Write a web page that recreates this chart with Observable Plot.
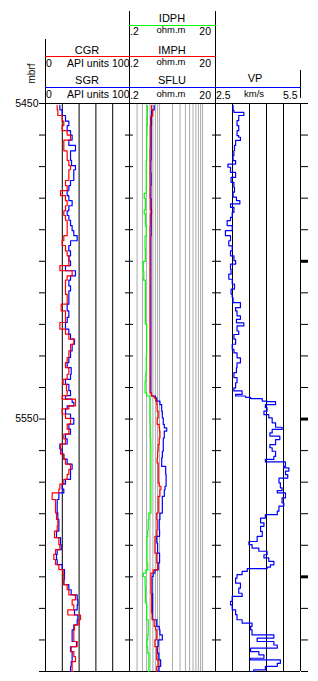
<!DOCTYPE html>
<html><head><meta charset="utf-8">
<script src="https://cdn.jsdelivr.net/npm/d3@7"></script>
<script src="https://cdn.jsdelivr.net/npm/@observablehq/plot@0.6"></script>
<style>
body{margin:0;background:#fff;}
#chart{position:relative;width:318px;height:681px;overflow:hidden;background:#fff;}
#chart svg{position:absolute;left:0;top:0;background:transparent !important;overflow:visible;max-width:none !important;}
</style></head><body><div id="chart"></div>
<script>
// ---------- depth axis ----------
const depthDomain = [5450, 5630];
const depthTicks = d3.range(5450, 5631, 10);
const depthLabels = [5450, 5550];
const thickTicks = [5500, 5550, 5600];
const depthUnit = "mbrf";

// ---------- track 1: gamma ray (API units) ----------
const grGrid = [0, 20, 40, 60, 80, 100];
const grDepth = [5450.6,5452,5453.8,5455.6,5457,5458.6,5460,5461.6,5463.3,5465,
5466.5,5468,5469.7,5471,5472.9,5474.4,5476,5477.6,5479.2,5480.8,
5482.4,5484,5485.5,5487,5488.7,5490.3,5491.9,5493.5,5495,5496.7,
5498.3,5499.9,5501.4,5503,5504.6,5506,5507.8,5509.4,5510.5,5513.6,
5515.7,5517.8,5519.4,5521.5,5523.1,5524.7,5526.3,5528.4,5530.5,5532.1,
5533.7,5535.8,5537.4,5539,5541,5542.6,5543.7,5544.7,5545.8,5546.8,
5548.4,5549.8,5551.6,5553.2,5554.8,5556.3,5557.9,5559.5,5561.1,5562.7,
5564.3,5565.9,5567.5,5569.1,5570.6,5572.2,5573.4,5575.5,5577.6,5579.7,
5581.8,5583.9,5585.5,5587.6,5589.8,5591.4,5592.9,5594.5,5596.1,5597.7,
5599.3,5600.9,5602.5,5604.1,5605.7,5607.3,5608.9,5610.5,5612.1,5613.6,
5615.2,5616.8,5618.4,5620.5,5622.1,5623.7,5625.3,5626.9,5628.5,5630];
const cgr = [13.9,14.7,19.8,21.8,19.8,25.8,29.8,21.8,21.8,25.8,
25.8,27.8,29.8,27.8,27.8,23.8,25.8,17.9,23.8,25.8,
23.8,21.8,23.8,25.8,25.8,25.8,21.8,19.8,23.8,25.8,
27.8,27.8,17.1,31.7,25.8,23.8,23.8,23.8,25.8,18.7,
23.8,23.8,17.1,23.8,27.8,33.7,29.8,27.8,25.8,23.8,
27.8,25.8,21.0,25.0,25.8,19.8,35.7,35.7,27.8,19.8,
23.8,29.8,25.8,27.8,21.8,23.8,17.9,17.9,21.8,23.8,
29.8,27.8,25.8,21.8,17.1,15.9,7.9,11.9,11.9,13.1,
14.7,13.9,10.7,15.9,17.1,11.9,9.9,11.9,15.9,21.0,
21.8,21.8,25.8,27.8,35.7,31.7,33.7,26.6,41.7,39.7,
34.5,33.7,33.7,37.7,30.6,33.7,35.7,31.7,31.7,32.9];
const sgr = [17.1,19.8,23.8,27.8,25.8,29.8,31.7,27.8,35.7,29.8,
29.8,31.0,35.7,33.7,33.7,29.8,27.8,25.8,27.8,31.7,
27.8,25.8,27.8,29.8,31.7,33.7,37.7,29.8,27.8,29.8,
27.8,29.8,23.8,35.7,29.8,27.8,29.8,27.8,27.8,25.8,
27.8,25.8,23.8,27.8,29.8,34.5,31.7,29.8,27.8,25.8,
30.6,29.8,23.8,27.8,29.8,23.8,31.7,33.7,25.8,23.8,
29.8,33.7,27.8,29.8,23.8,25.8,17.1,19.8,21.8,25.8,
31.7,29.8,29.8,23.8,19.8,21.8,15.9,13.9,13.9,14.7,
15.9,15.9,13.1,17.9,18.7,13.9,13.1,13.9,19.8,22.6,
22.6,21.8,27.8,30.6,37.7,38.5,37.7,34.5,38.5,37.7,
33.7,31.7,31.7,36.9,29.8,31.7,31.7,30.6,29.8,30.6];

// ---------- track 2: resistivity (ohm.m, log) ----------
const resGrid = [0.3,0.4,0.5,0.6,0.7,0.8,0.9,1,2,3,4,5,6,7,8,9,10];
const resDepth = [5450.6,5452,5454,5457,5460,5464,5468,5472,5476,5478.5,
5480,5483.6,5485,5489,5492,5496,5500,5503,5505.5,5506,
5510,5515,5520,5525,5530,5535,5538,5541.1,5541.7,5542.7,
5543.3,5544.3,5545.4,5547.5,5549.6,5551.7,5552.8,5553.8,5556,5558.1,
5560.2,5562.3,5563.9,5565,5567.6,5570.2,5571.3,5572.4,5574.5,5577.6,
5579.8,5581.9,5585.1,5587.2,5589.3,5592.5,5595.6,5597.8,5598.8,5599.9,
5603,5605.2,5608.3,5611.5,5613.6,5615.7,5616.8,5618.4,5620,5622.1,
5624.2,5626.3,5628.4,5630];
const idph = [.52,.52,.52,.51,.50,.50,.49,.49,.49,.44,
.47,.44,.47,.49,.46,.47,.42,.43,.42,.47,
.47,.47,.50,.50,.49,.48,.46,.46,.50,.60,
.60,.60,.60,.60,.60,.61,.61,.61,.62,.63,
.63,.63,.63,.63,.63,.63,.63,.63,.63,.63,
.56,.545,.53,.51,.51,.51,.53,.48,.42,.46,
.47,.47,.50,.50,.545,.545,.545,.53,.51,.53,
.565,.565,.565,.565];
const imph = [.65,.69,.62,.61,.61,.60,.60,.60,.60,.60,
.61,.63,.61,.60,.60,.60,.60,.60,.60,.60,
.60,.60,.60,.60,.60,.60,.60,.60,.65,.75,
.81,.86,.88,.93,.88,.98,1.0,1.02,.98,.93,
.90,.88,.93,.93,.93,.98,1.08,1.02,.93,.93,
.86,.88,.86,.78,.78,.86,.90,.71,.63,.63,
.63,.65,.65,.67,.75,.81,.86,.86,.78,.86,
.86,.93,.86,.86];
const sflu = [.75,.65,.65,.64,.64,.64,.63,.64,.63,.63,
.64,.65,.64,.64,.63,.63,.63,.63,.63,.63,
.63,.63,.63,.63,.63,.63,.63,.63,.65,.80,
.86,1.02,1.12,1.16,1.22,1.29,1.47,1.29,1.22,1.22,
1.16,1.12,1.12,1.39,1.42,1.42,1.34,1.29,1.16,1.16,
1.02,.98,1.0,.86,.90,1.0,.93,.78,.71,.67,
.67,.69,.69,.69,.86,.98,1.02,1.16,.93,.90,
.96,1.06,.96,.93];

// ---------- track 3: VP (km/s) ----------
const vpGrid = [2.5, 3.1, 3.7, 4.3, 4.9, 5.5];
const vpDepth = [5450.6,5452.2,5452.8,5453.8,5455.4,5457,5458.6,5460.2,5460.7,5461.7,
5463.3,5464.9,5466.5,5468.1,5469.2,5470.2,5471.8,5473.4,5475,5476.6,
5478.1,5479.7,5480.8,5481.8,5482.9,5484.5,5486.1,5487.1,5488.7,5490.3,
5491.9,5493.5,5495.1,5496.7,5498.3,5499.8,5500.9,5502.5,5504.1,5505.7,
5507.2,5508.8,5510.4,5511.5,5513.1,5514.7,5515.7,5517.3,5518.4,5519.5,
5520.5,5522.1,5523.2,5524.7,5526.3,5527.9,5529,5530.6,5532.2,5533.7,
5535.3,5536.9,5538.5,5540.1,5541.1,5542.2,5542.7,5543.1,5543.5,5544.3,
5544.5,5545.4,5546.4,5547.5,5548.6,5549.6,5551.2,5552.6,5553.3,5554.4,
5555.4,5556.5,5558.1,5559.1,5560.2,5561.8,5562.8,5563.6,5565,5565.5,
5566.5,5567.6,5568.7,5570.2,5571.8,5572.7,5573.4,5575,5576.6,5577.6,
5579.2,5580.3,5581.4,5582.9,5584,5585.6,5587.2,5588.8,5589.8,5590.9,
5591.9,5593,5594,5595.1,5596.2,5596.9,5597.4,5598.3,5599.3,5600.4,
5602,5603.6,5605.2,5606.2,5607.8,5608.9,5610.5,5612,5613.6,5614.7,
5615.7,5616.8,5618.4,5619.4,5620.5,5621.6,5622.6,5623.7,5624.7,5625.8,
5626.3,5627.4,5628.4,5629.5,5630];
const vp = [3.12,3.15,3.50,3.32,3.26,3.32,3.26,3.32,3.38,3.21,
3.17,3.15,3.12,3.21,2.94,3.03,3.21,3.05,3.15,3.17,
3.12,3.24,3.36,3.03,3.15,3.09,3.03,2.91,3.09,2.85,
3.03,2.97,3.09,3.03,3.15,3.21,3.03,3.05,2.97,3.09,
3.17,3.05,3.09,3.12,3.38,3.21,3.26,3.38,3.24,3.50,
3.26,3.32,3.15,3.21,3.09,3.15,3.26,3.38,3.26,3.24,
3.15,3.26,3.21,3.15,3.44,3.21,3.56,3.74,4.15,4.32,
4.62,4.26,4.32,4.21,4.38,4.50,4.62,4.85,4.50,4.42,
4.77,4.62,4.42,4.50,4.62,4.56,4.26,4.97,4.91,5.09,
4.97,5.05,4.74,4.79,4.85,4.68,4.97,4.85,4.91,4.74,
4.68,4.26,4.09,4.21,4.09,4.15,3.97,3.68,3.79,4.03,
4.32,4.21,4.38,4.56,4.44,4.32,3.62,3.44,3.26,3.21,
3.38,3.32,3.44,3.09,3.03,3.09,3.21,3.26,3.44,3.79,
3.74,3.79,4.56,3.97,4.56,4.68,3.74,4.03,4.21,3.74,
4.79,4.68,4.26,3.85,3.79];

// ---------- build ----------
const W = 318, H = 681, TOP = 103, BOTTOM = 10;
const FONT = '"Liberation Sans", Arial, Helvetica, sans-serif';
const RED = "#ff0000", BLUE = "#0000ff", GREEN = "#00ff00";
const grRows = grDepth.map((d, i) => ({depth: d, cgr: cgr[i], sgr: sgr[i]}));
const resRows = resDepth.map((d, i) => ({depth: d, idph: idph[i], imph: imph[i], sflu: sflu[i]}));
const vpRows = vpDepth.map((d, i) => ({depth: d, vp: vp[i]}));
const noText = () => "";
const CURVE = "step-before";
const LW = 1.2;

function track(opts) {
  return Plot.plot({
    width: W, height: H, marginTop: TOP, marginBottom: BOTTOM,
    ...opts,
    y: {domain: depthDomain, reverse: true, axis: null},
    style: {background: "transparent", overflow: "visible", color: "black", fontFamily: FONT, fontSize: "10.5px"}
  });
}

const t1 = track({
  marginLeft: 45, marginRight: W - 129,
  x: {domain: [0, 100], axis: null},
  marks: [
    Plot.ruleX(grGrid, {stroke: "black"}),
    Plot.ruleY(depthDomain, {stroke: "black"}),
    Plot.axisY(depthTicks, {anchor: "left", tickSize: 6, tickPadding: 1, tickFormat: d => depthLabels.includes(d) ? String(d) : "", label: null}),
    Plot.axisY(depthTicks, {anchor: "right", tickSize: 3, tickFormat: noText, label: null}),
    Plot.line(grRows, {x: "sgr", y: "depth", stroke: BLUE, strokeWidth: LW, curve: CURVE}),
    Plot.line(grRows, {x: "cgr", y: "depth", stroke: RED, strokeWidth: LW, curve: CURVE})
  ]
});

const t2 = track({
  marginLeft: 129, marginRight: W - 215,
  x: {type: "log", domain: [0.2, 20], axis: null},
  marks: [
    Plot.ruleX(resGrid, {stroke: "#aaaaaa"}),
    Plot.ruleX([0.2, 20], {stroke: "black"}),
    Plot.ruleY(depthDomain, {stroke: "black"}),
    Plot.axisY(depthTicks, {anchor: "left", tickSize: 4, tickFormat: noText, label: null}),
    Plot.axisY(depthTicks, {anchor: "right", tickSize: 5, tickFormat: noText, label: null}),
    Plot.line(resRows, {x: "idph", y: "depth", stroke: GREEN, strokeWidth: LW, curve: CURVE}),
    Plot.line(resRows, {x: "sflu", y: "depth", stroke: BLUE, strokeWidth: LW, curve: CURVE}),
    Plot.line(resRows, {x: "imph", y: "depth", stroke: RED, strokeWidth: LW, curve: CURVE})
  ]
});

const t3 = track({
  marginLeft: 215, marginRight: W - 300,
  x: {domain: [2.5, 5.5], axis: null},
  marks: [
    Plot.ruleX(vpGrid, {stroke: "black"}),
    Plot.ruleY(depthDomain, {stroke: "black"}),
    Plot.axisY(depthTicks, {anchor: "left", tickSize: 3, tickFormat: noText, label: null}),
    Plot.axisY(depthTicks, {anchor: "right", tickSize: 7, tickFormat: noText, label: null}),
    Plot.axisY(thickTicks, {anchor: "right", tickSize: 7, strokeWidth: 3, tickFormat: noText, label: null}),
    Plot.line(vpRows, {x: "vp", y: "depth", stroke: BLUE, strokeWidth: LW, curve: CURVE})
  ]
});

// ---------- header (curve legend) ----------
const hdr = d3.create("svg").attr("width", W).attr("height", TOP + 1)
  .attr("font-family", FONT).style("overflow", "visible");
function line(x1, y1, x2, y2, c) {
  hdr.append("line").attr("x1", x1).attr("y1", y1).attr("x2", x2).attr("y2", y2)
    .attr("stroke", c).attr("stroke-width", 1).attr("shape-rendering", "crispEdges");
}
function txt(x, y, s, anchor, size) {
  hdr.append("text").attr("x", x).attr("y", y).attr("text-anchor", anchor || "middle")
    .attr("font-size", size || 10.5).attr("fill", "black").text(s);
}
// borders
line(45.5, 39, 45.5, 103, "black");
line(129.5, 11, 129.5, 103, "black");
line(215.5, 11, 215.5, 103, "black");
line(300.5, 70, 300.5, 98, "black");
// coloured curve keys
line(129, 25.5, 216, 25.5, GREEN);
line(45, 56.5, 216, 56.5, RED);
line(45, 87.5, 301, 87.5, BLUE);
// track 1
const grNames = ["CGR", "SGR"], grUnit = "API units", grEnds = ["0", "100"];
[[54, 66.5], [83.5, 97.5]].forEach(([yn, ys], i) => {
  txt(87, yn, grNames[i], "middle", 11);
  txt(46, ys, grEnds[0], "start");
  txt(88, ys, grUnit, "middle");
  txt(129.5, ys, grEnds[1], "end");
});
// track 2
const resNames = ["IDPH", "IMPH", "SFLU"], resUnit = "ohm.m", resEnds = [".2", "20"];
[[22, 35], [54, 66.5], [84, 98.5]].forEach(([yn, ys], i) => {
  txt(172, yn, resNames[i], "middle", 11);
  txt(130, ys, resEnds[0], "start");
  txt(171, ys - 2, resUnit, "middle", 9.5);
  txt(211, ys, resEnds[1], "end");
});
// track 3
txt(255, 82, "VP", "middle", 11);
txt(216, 99, "2.5", "start");
txt(254, 97, "km/s", "middle", 9.5);
txt(297.5, 99, "5.5", "end");
// depth unit
hdr.append("text").attr("transform", "translate(35,73.5) rotate(-90)")
  .attr("text-anchor", "middle").attr("font-size", 10).attr("fill", "black").text(depthUnit);

const chart = document.getElementById("chart");
chart.append(t1, t2, t3, hdr.node());
</script>
</body></html>
